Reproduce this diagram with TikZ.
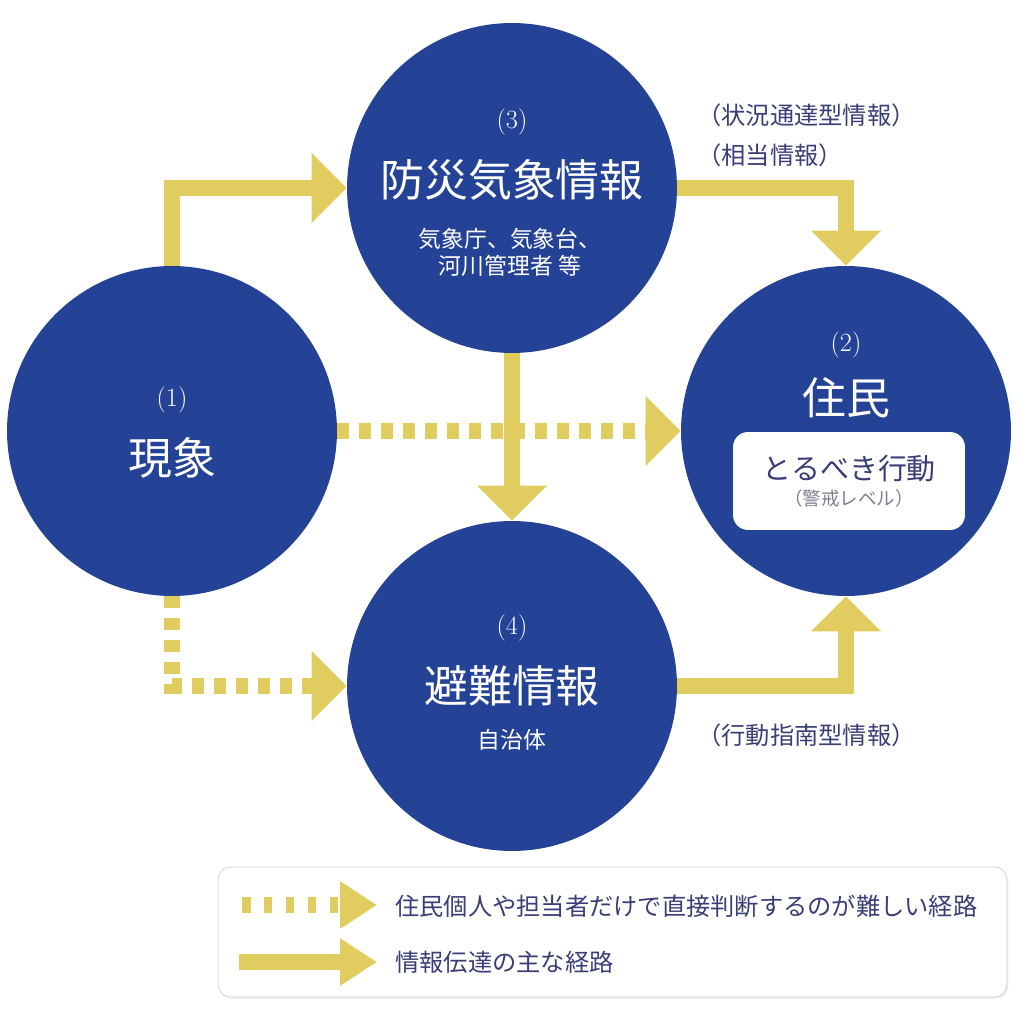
\documentclass[tikz,border=0pt]{standalone}
\usepackage{fontspec}
\newfontfamily\jp{Noto Sans CJK JP}
\usetikzlibrary{arrows.meta, positioning, shadows}
\definecolor{cBlue}{RGB}{36,67,150}
\definecolor{cGold}{RGB}{225,204,96}
\definecolor{cInk}{RGB}{58,62,118}
\definecolor{cGray}{RGB}{125,127,145}

\tikzset{
  bubble/.style={circle, fill=cBlue, minimum size=6.6cm, inner sep=0pt},
  num/.style={text=white, font=\fontsize{15}{17}\selectfont},
  title/.style={text=white, font=\jp\fontsize{25}{30}\selectfont},
  sub/.style={text=white, font=\jp\fontsize{13}{15.5}\selectfont, align=center},
  note/.style={text=cInk, font=\jp\fontsize{13.8}{16}\selectfont, anchor=west, inner sep=0pt},
  flow/.style={draw=cGold, line width=0.32cm, -{Triangle[length=0.7cm,width=1.36cm]}},
  hard/.style={flow, dash pattern=on 0.24cm off 0.2cm},
  keyflow/.style={draw=cGold, line width=0.32cm, -{Triangle[length=0.74cm,width=0.9cm]}},
  keyhard/.style={keyflow, dash pattern=on 0.17cm off 0.27cm},
}

\begin{document}
\begin{tikzpicture}[x=0.02cm, y=-0.02cm]
    \useasboundingbox (0,0) rectangle (1020,1020);

    % the four bubbles
    \node[bubble] (c1) at (172,431) {};
    \node[bubble] (c3) at (512,188) {};
    \node[bubble] (c2) at (846,431) {};
    \node[bubble] (c4) at (512,686) {};

    % routes
    \draw[hard] (c1.east) -- (c2.west);
    \draw[hard] (c1.south) |- (c4.west);
    \draw[flow] (c1.north) |- (c3.west);
    \draw[flow] (c3.east) -| (c2.north);
    \draw[flow] (c3.south) -- (c4.north);
    \draw[flow] (c4.east) -| (c2.south);

    % (1)
    \node[num] (n1) at (172,400) {(1)};
    \node[title] (t1) at (172,458) {現象};

    % (3)
    \node[num] (n3) at (512,122) {(3)};
    \node[title] (t3) at (512,180) {防災気象情報};
    \node[sub] (s3) at (510,252) {気象庁、気象台、\\河川管理者 等};

    % (2)
    \node[num] (n2) at (846,345) {(2)};
    \node[title] (t2) at (846,398) {住民};
    \node[fill=white, rounded corners=0.3cm, minimum width=4.64cm, minimum height=1.96cm,
          align=center, text=cInk, font=\jp] (act) at (849,481)
        {\fontsize{16.5}{20}\selectfont とるべき行動\\[3pt]
         {\color{cGray}\fontsize{10.5}{12}\selectfont （警戒レベル）}};

    % (4)
    \node[num] (n4) at (512,628) {(4)};
    \node[title] (t4) at (512,686) {避難情報};
    \node[sub] (s4) at (512,740) {自治体};

    % route notes
    \node[note] (r1) at (697,115) {（状況通達型情報）};
    \node[note] (r2) at (697,155) {（相当情報）};
    \node[note] (r3) at (697,735) {（行動指南型情報）};

    % key
    \node[draw=black!18, fill=white, rounded corners=0.25cm, minimum width=15.78cm, minimum height=2.6cm,
          drop shadow={opacity=0.12, shadow xshift=0.03cm, shadow yshift=-0.04cm}] (key) at (612.5,932) {};
    \coordinate (k1a) at (242,905);
    \coordinate (k1b) at (377,905);
    \coordinate (k2a) at (239,962);
    \coordinate (k2b) at (377,962);
    \draw[keyhard] (k1a) -- (k1b);
    \draw[keyflow] (k2a) -- (k2b);
    \node[note] (kt1) at (395,906) {住民個人や担当者だけで直接判断するのが難しい経路};
    \node[note] (kt2) at (395,962) {情報伝達の主な経路};
\end{tikzpicture}
\end{document}
